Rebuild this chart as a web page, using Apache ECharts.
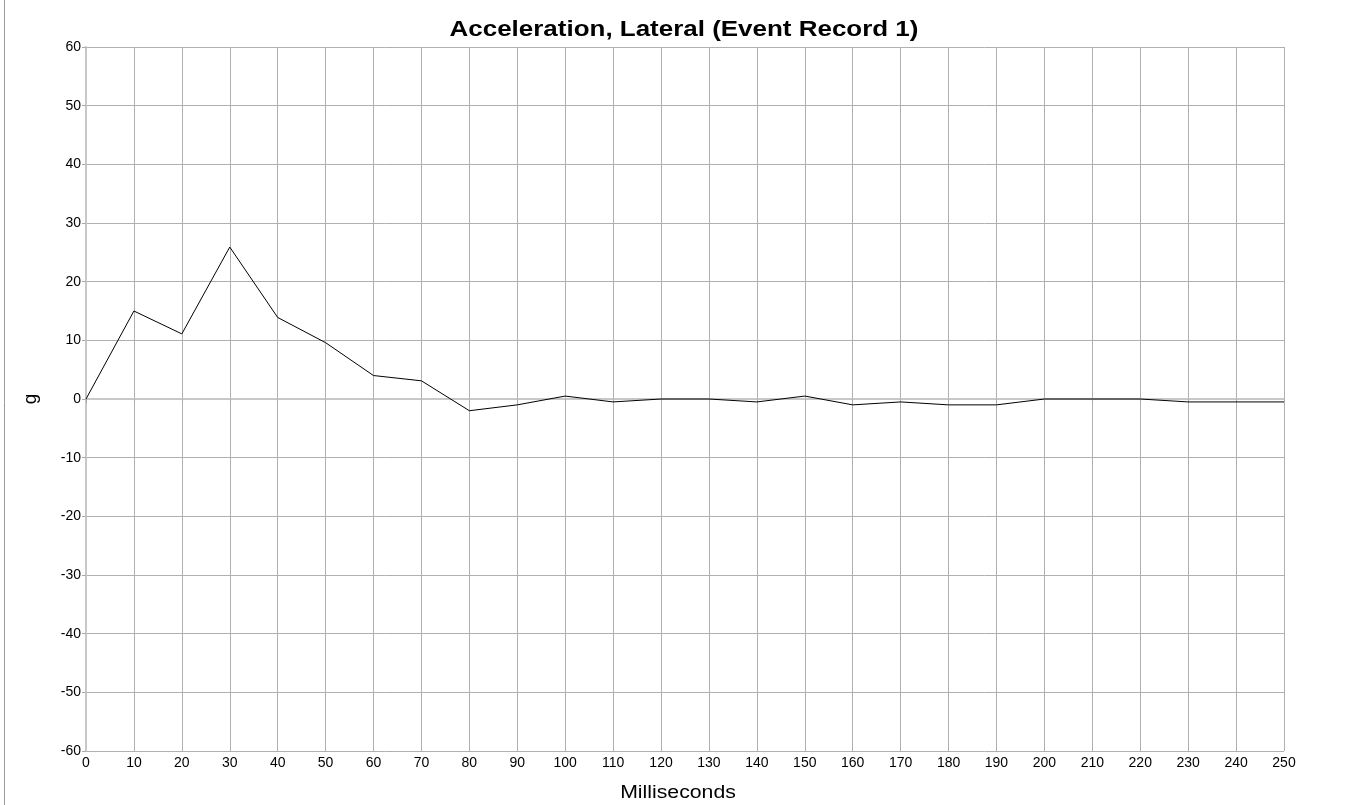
<!DOCTYPE html>
<html>
<head>
<meta charset="utf-8">
<style>
  html, body { margin: 0; padding: 0; background: #fff; }
  #chart { width: 1350px; height: 805px; }
</style>
<script src="https://cdn.jsdelivr.net/npm/echarts@6/dist/echarts.min.js"></script>
</head>
<body>
<div id="chart"></div>
<script>
const titleText = "Acceleration, Lateral (Event Record 1)";
const xName = "Milliseconds";
const yName = "g";

// time in ms and lateral acceleration in g
const ms = [0, 10, 20, 30, 40, 50, 60, 70, 80, 90, 100, 110, 120, 130, 140, 150, 160, 170, 180, 190, 200, 210, 220, 230, 240, 250];
const accel = [0, 15.0, 11.1, 25.9, 13.9, 9.6, 4.0, 3.1, -2.0, -1.0, 0.5, -0.5, 0, 0, -0.5, 0.5, -1.0, -0.5, -1.0, -1.0, 0, 0, 0, -0.5, -0.5, -0.5];

const font = "'Liberation Sans', Arial, sans-serif";
const chart = echarts.init(document.getElementById("chart"));

chart.setOption({
  backgroundColor: "#fff",
  animation: false,
  grid: { left: 86, right: 66, top: 47, bottom: 54 },
  graphic: [
    { type: "line", shape: { x1: 4.5, y1: 0, x2: 4.5, y2: 805 }, style: { stroke: "#999", lineWidth: 1 } },
    // the source text looks a bit stretched sideways, hence scaleX
    {
      type: "text", x: 684, y: 30, scaleX: 1.18,
      style: { text: titleText, font: `bold 22px ${font}`, fill: "#000", textAlign: "center", textVerticalAlign: "middle" },
    },
    {
      type: "text", x: 678, y: 793, scaleX: 1.18,
      style: { text: xName, font: `18px ${font}`, fill: "#000", textAlign: "center", textVerticalAlign: "middle" },
    },
  ],
  xAxis: {
    type: "value",
    min: 0,
    max: 250,
    interval: 10,
    axisLine: { lineStyle: { color: "#c8c8c8", width: 2 } },
    axisTick: { show: true, length: 4, lineStyle: { color: "#aaa" } },
    axisLabel: { fontFamily: font, fontSize: 14, color: "#000", margin: 5 },
    splitLine: { lineStyle: { color: "#b0b0b0", width: 1 } },
  },
  yAxis: {
    type: "value",
    min: -60,
    max: 60,
    interval: 10,
    name: yName,
    nameLocation: "middle",
    nameGap: 46,
    nameTextStyle: { fontFamily: font, fontSize: 19, color: "#000" },
    axisLine: { show: true, lineStyle: { color: "#c8c8c8", width: 2 } },
    axisTick: { show: true, length: 4, lineStyle: { color: "#aaa" } },
    axisLabel: { fontFamily: font, fontSize: 14, color: "#000", margin: 5 },
    splitLine: { lineStyle: { color: "#b0b0b0", width: 1 } },
  },
  series: [
    {
      type: "line",
      data: ms.map((t, i) => [t, accel[i]]),
      symbol: "none",
      lineStyle: { color: "#000", width: 1 },
    },
  ],
});
</script>
</body>
</html>
